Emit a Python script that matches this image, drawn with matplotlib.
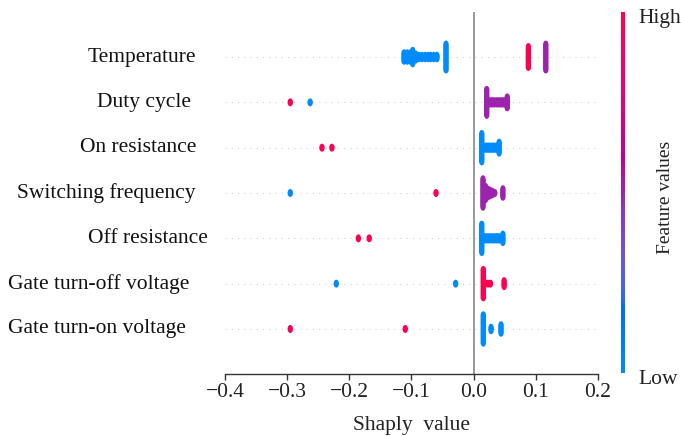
import numpy as np
import matplotlib
matplotlib.use("Agg")
import matplotlib.pyplot as plt
from matplotlib.path import Path
from matplotlib.colors import ListedColormap
import matplotlib.transforms as mtransforms

plt.rcParams["font.family"] = ["Liberation Serif", "DejaVu Serif"]

# ---------------------------------------------------------------- data
features = ["Temperature", "Duty cycle", "On resistance", "Switching frequency",
            "Off resistance", "Gate turn-off voltage", "Gate turn-on voltage"]

# per feature: SHAP value, number of samples at that value, normalised feature value
temperature_shap = [-0.112, -0.107, -0.102, -0.098, -0.093, -0.088, -0.083, -0.078,
                    -0.073, -0.069, -0.064, -0.059, -0.0445, 0.088, 0.116]
temperature_count = [4, 4, 4, 6, 3, 2, 2, 2, 2, 2, 2, 2, 11, 9, 11]
temperature_value = [0, 0, 0, 0, 0, 0, 0, 0, 0, 0, 0, 0, 0, 1.0, 0.5]

duty_shap = [-0.295, -0.263, 0.021, 0.025, 0.029, 0.033, 0.037, 0.041, 0.045, 0.049, 0.054]
duty_count = [1, 1, 11, 2, 2, 2, 2, 2, 2, 2, 5]
duty_value = [1.0, 0.0, 0.5, 0.5, 0.5, 0.5, 0.5, 0.5, 0.5, 0.5, 0.5]

on_res_shap = [-0.244, -0.228, 0.013, 0.017, 0.021, 0.025, 0.029, 0.033, 0.037, 0.041]
on_res_count = [1, 1, 12, 2, 2, 2, 2, 2, 2, 5]
on_res_value = [1.0, 1.0, 0, 0, 0, 0, 0, 0, 0, 0]

switch_shap = [-0.295, -0.0606, 0.015, 0.019, 0.022, 0.026, 0.030, 0.034, 0.047]
switch_count = [1, 1, 12, 6, 4, 3, 2, 1, 4]
switch_value = [0.0, 1.0, 0.5, 0.5, 0.5, 0.5, 0.5, 0.5, 0.5]

off_res_shap = [-0.1855, -0.168, 0.013, 0.017, 0.021, 0.025, 0.029, 0.033, 0.037, 0.041, 0.047]
off_res_count = [1, 1, 12, 2, 2, 2, 2, 2, 2, 2, 4]
off_res_value = [1.0, 1.0, 0, 0, 0, 0, 0, 0, 0, 0, 0]

gate_off_shap = [-0.221, -0.029, 0.0155, 0.019, 0.023, 0.027, 0.049]
gate_off_count = [1, 1, 12, 1, 1, 1, 3]
gate_off_value = [0.0, 0.0, 1.0, 1.0, 1.0, 1.0, 1.0]

gate_on_shap = [-0.295, -0.110, 0.0155, 0.028, 0.044]
gate_on_count = [1, 1, 12, 2, 4]
gate_on_value = [1.0, 1.0, 0, 0, 0]

x_ticks = [-0.4, -0.3, -0.2, -0.1, 0.0, 0.1, 0.2]
label_left_px = [88, 97, 80, 17, 88, 8, 8]

series = [
    (temperature_shap, temperature_count, temperature_value),
    (duty_shap, duty_count, duty_value),
    (on_res_shap, on_res_count, on_res_value),
    (switch_shap, switch_count, switch_value),
    (off_res_shap, off_res_count, off_res_value),
    (gate_off_shap, gate_off_count, gate_off_value),
    (gate_on_shap, gate_on_count, gate_on_value),
]


# ------------------------------------------------------ red/blue colormap
def lab_to_rgb(L, a, b):
    fy = (L + 16.0) / 116.0
    fx = fy + a / 500.0
    fz = fy - b / 200.0

    def finv(t):
        t3 = t ** 3
        return np.where(t3 > 0.008856, t3, (t - 16.0 / 116.0) / 7.787)

    X = 0.95047 * finv(fx)
    Y = 1.00000 * finv(fy)
    Z = 1.08883 * finv(fz)
    r = 3.2406 * X - 1.5372 * Y - 0.4986 * Z
    g = -0.9689 * X + 1.8758 * Y + 0.0415 * Z
    bb = 0.0557 * X - 0.2040 * Y + 1.0570 * Z
    rgb = np.stack([r, g, bb], axis=-1)
    rgb = np.where(rgb > 0.0031308, 1.055 * np.clip(rgb, 0, None) ** (1 / 2.4) - 0.055, 12.92 * rgb)
    return np.clip(rgb, 0, 1)


nsteps = 256
l_vals = np.concatenate([np.linspace(54.0, 40.0, nsteps // 2), np.linspace(40.0, 54.0, nsteps // 2)])
c_vals = np.linspace(70.0, 90.0, nsteps)
h_vals = np.linspace(4.6588, 0.35470565 + 2 * np.pi, nsteps)
cmap = ListedColormap(lab_to_rgb(l_vals, c_vals * np.cos(h_vals), c_vals * np.sin(h_vals)))

# ---------------------------------------------------------------- figure
W, H = 681, 436
fig = plt.figure(figsize=(W / 100, H / 100), dpi=100)
ax = fig.add_axes([225 / W, (H - 374.3) / H, 373 / W, 362.6 / H])

n_feat = len(features)
ax.set_xlim(-0.4, 0.2)
ax.set_ylim(-1, n_feat)

circle = Path.unit_circle()
ellipse = Path(circle.vertices * np.array([0.68, 1.0]), circle.codes)
step = 0.055

for i, (shap_vals, counts, fvals) in enumerate(series):
    row = n_feat - 1 - i
    ax.axhline(row, color="#cccccc", lw=0.75, dashes=(1, 5), zorder=-1)
    xs, ys, cs = [], [], []
    for v, n, f in zip(shap_vals, counts, fvals):
        offs = (np.arange(n) - (n - 1) / 2.0) * step
        xs.extend([v] * n)
        ys.extend(row + offs)
        cs.extend([f] * n)
    ax.scatter(xs, ys, c=cs, cmap=cmap, vmin=0, vmax=1, s=33, marker=ellipse,
               linewidths=0, zorder=3)

ax.axvline(0, color="#999999", lw=1.4, zorder=-1)

for side in ("left", "right", "top"):
    ax.spines[side].set_visible(False)
ax.spines["bottom"].set_color("#333333")
ax.spines["bottom"].set_linewidth(1.0)
ax.set_yticks([])
ax.set_xticks(x_ticks)
ax.set_xticklabels([f"{t:.1f}".replace("-", "\u2212") for t in x_ticks])
ax.tick_params(axis="x", colors="#333333", labelcolor="#222222", length=4, width=1,
               labelsize=15.5, pad=2)
ax.set_xlabel("Shaply  value", fontsize=15.5, labelpad=10, color="#222222")

trans = mtransforms.blended_transform_factory(fig.transFigure, ax.transData)
for i, name in enumerate(features):
    fig.text(label_left_px[i] / W, n_feat - 1 - i, name, transform=trans,
             ha="left", va="center", fontsize=15.5, color="#111111")

# ---------------------------------------------------------------- colour bar
cax = fig.add_axes([621 / W, (H - 373) / H, 4 / W, 361 / H])
cax.imshow(np.linspace(0, 1, 256)[:, None], aspect="auto", cmap=cmap,
           origin="lower", extent=[0, 1, 0, 1])
cax.set_xticks([])
cax.yaxis.tick_right()
cax.set_yticks([0, 1])
cax.set_yticklabels(["Low", "High"])
cax.tick_params(axis="y", length=0, pad=10, labelsize=15.5, labelcolor="#222222")
shift = mtransforms.ScaledTranslation(0, -4 / 100, fig.dpi_scale_trans)
for lbl in cax.get_yticklabels():
    lbl.set_transform(lbl.get_transform() + shift)
for s in cax.spines.values():
    s.set_visible(False)
fig.text(665 / W, (H - 197) / H, "Feature values", rotation=90, ha="center",
         va="center", fontsize=14, color="#222222")

fig.savefig("out.png", dpi=100)
